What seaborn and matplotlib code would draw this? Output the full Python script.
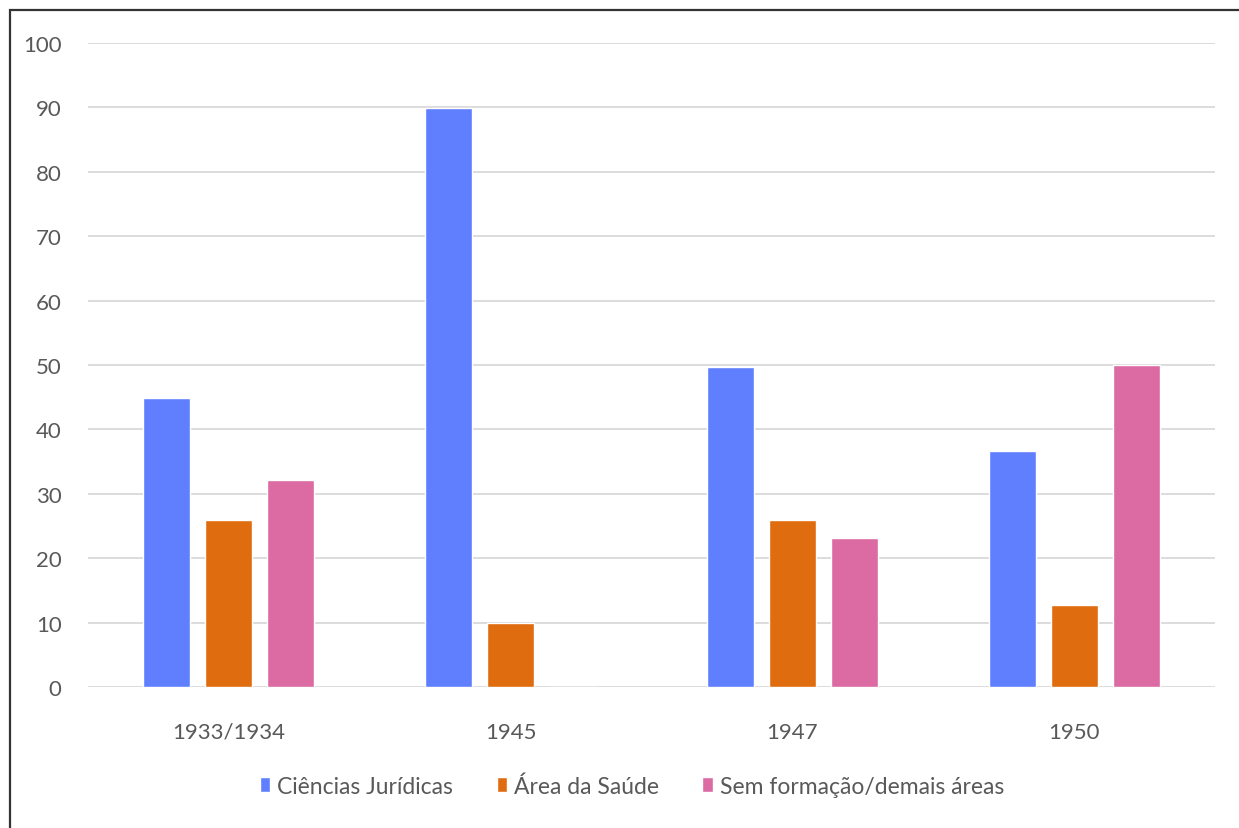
import seaborn as sns
import matplotlib.pyplot as plt
import pandas as pd
from matplotlib.patches import Rectangle

# data
anos = ["1933/1934", "1945", "1947", "1950"]
series = ["Ciências Jurídicas", "Área da Saúde", "Sem formação/demais áreas"]
juridicas = [44.8, 89.9, 49.7, 36.7]
saude = [26, 10, 26, 12.7]
sem_formacao = [32.1, 0, 23.1, 50]
cores = ["#5f7fff", "#e06c10", "#dc6aa3"]

df = pd.DataFrame({
    "ano": anos * 3,
    "area": [series[0]] * 4 + [series[1]] * 4 + [series[2]] * 4,
    "valor": juridicas + saude + sem_formacao,
})

sns.set_theme(style="white")
plt.rcParams["font.family"] = ["Lato", "DejaVu Sans"]

fig = plt.figure(figsize=(12.39, 8.29), dpi=100)
ax = fig.add_axes([88 / 1239, 1 - 688 / 829, (1215 - 88) / 1239, (688 - 44) / 829])

sns.barplot(data=df, x="ano", y="valor", hue="area", palette=cores,
            width=0.66, gap=0.24, ax=ax, legend=True, errorbar=None,
            saturation=1, zorder=3)

ax.set_ylim(0, 100)
ax.set_yticks(range(0, 101, 10))
ax.grid(axis="y", color="#d9d9d9", linewidth=1.3, zorder=0)
ax.set_axisbelow(True)
for s in ax.spines.values():
    s.set_visible(False)
ax.set_xlabel("")
ax.set_ylabel("")
ax.tick_params(axis="y", length=0, pad=19, labelsize=16, labelcolor="#595959")
ax.tick_params(axis="x", length=0, pad=25, labelsize=16, labelcolor="#595959")

handles, labels = ax.get_legend_handles_labels()
ax.get_legend().remove()
fig.legend(handles, labels, loc="center", bbox_to_anchor=(632 / 1239, 1 - 787 / 829),
           ncol=3, frameon=False, fontsize=16.5, labelcolor="#595959",
           handlelength=0.45, handleheight=0.6, handletextpad=0.3, columnspacing=1.9)

# outer frame, partly cut off like the source image
fig.patches.append(Rectangle((10 / 1239, -0.05), 1.1, 1 - 11 / 829 + 0.05,
                             transform=fig.transFigure, fill=False,
                             edgecolor="#333333", linewidth=1.6))

fig.savefig("out.png", dpi=100)
